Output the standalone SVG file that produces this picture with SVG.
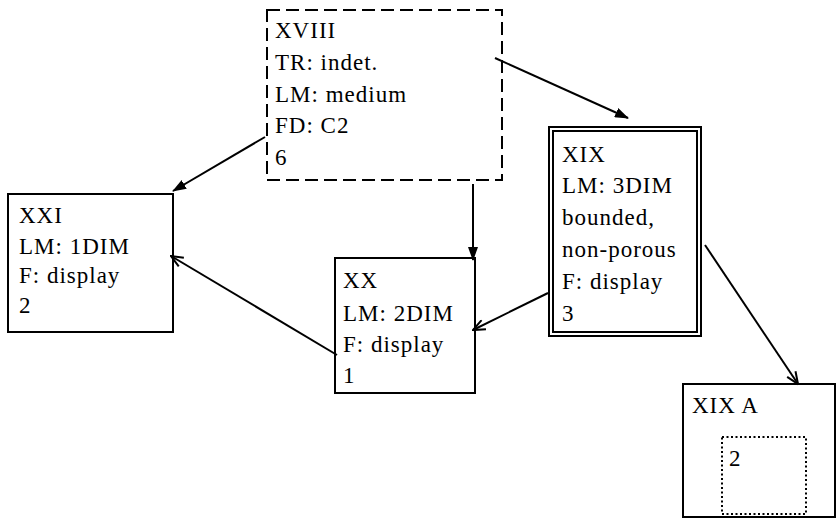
<svg xmlns="http://www.w3.org/2000/svg" width="837" height="520" viewBox="0 0 837 520">
<style>
.box{fill:none;stroke:#000;stroke-width:2}
.dash{stroke-dasharray:13 6}
.dot{stroke-dasharray:2 2.5;stroke-width:2}
.t{font-family:"Liberation Serif","Times New Roman",serif;font-size:23px;letter-spacing:1px;fill:#000}
.c{fill:none;stroke:#000;stroke-width:2}
</style>
<defs>
<marker id="af" markerUnits="userSpaceOnUse" viewBox="0 0 14 10" refX="13" refY="5" markerWidth="14" markerHeight="10" orient="auto">
<path d="M0,0 L14,5 L0,10 Z" fill="#000"/>
</marker>
<marker id="ao" markerUnits="userSpaceOnUse" viewBox="0 0 14 12" refX="13" refY="6" markerWidth="14" markerHeight="12" orient="auto">
<path d="M1,1 L13,6 L1,11" fill="none" stroke="#000" stroke-width="2"/>
</marker>
</defs>
<rect width="837" height="520" fill="#fff"/>
<g id="connectors">
<line class="c" x1="495" y1="58" x2="628" y2="118" marker-end="url(#af)"/>
<line class="c" x1="473" y1="184" x2="473" y2="260" marker-end="url(#af)"/>
<line class="c" x1="548" y1="293" x2="473" y2="330" marker-end="url(#ao)"/>
<line class="c" x1="705" y1="245" x2="798" y2="384" marker-end="url(#ao)"/>
<line class="c" x1="337" y1="355" x2="171" y2="256" marker-end="url(#ao)"/>
<line class="c" x1="265" y1="137" x2="173" y2="191" marker-end="url(#af)"/>
</g>
<g id="XVIII">
<rect class="box dash" x="267" y="10" width="235" height="170"/>
<text class="t" x="275" y="38">XVIII</text>
<text class="t" x="275" y="70">TR: indet.</text>
<text class="t" x="275" y="102">LM: medium</text>
<text class="t" x="275" y="133">FD: C2</text>
<text class="t" x="275" y="165">6</text>
</g>
<g id="XIX">
<rect class="box" x="549" y="127" width="152" height="209" stroke-width="1.6"/>
<rect class="box" x="553" y="131" width="144" height="201" stroke-width="1.6"/>
<text class="t" x="562" y="162">XIX</text>
<text class="t" x="562" y="193">LM: 3DIM</text>
<text class="t" x="562" y="225">bounded,</text>
<text class="t" x="562" y="257">non-porous</text>
<text class="t" x="562" y="289">F: display</text>
<text class="t" x="562" y="321">3</text>
</g>
<g id="XXI">
<rect class="box" x="8" y="194" width="165" height="138"/>
<text class="t" x="19" y="223">XXI</text>
<text class="t" x="19" y="254">LM: 1DIM</text>
<text class="t" x="19" y="283">F: display</text>
<text class="t" x="19" y="313">2</text>
</g>
<g id="XX">
<rect class="box" x="335" y="258" width="140" height="135"/>
<text class="t" x="343" y="288">XX</text>
<text class="t" x="343" y="321">LM: 2DIM</text>
<text class="t" x="343" y="352">F: display</text>
<text class="t" x="343" y="383">1</text>
</g>
<g id="XIXA">
<rect class="box" x="683" y="384" width="152" height="133"/>
<text class="t" x="692" y="413">XIX A</text>
<rect class="box dot" x="722" y="437" width="84" height="77"/>
<text class="t" x="729" y="466">2</text>
</g>
</svg>
